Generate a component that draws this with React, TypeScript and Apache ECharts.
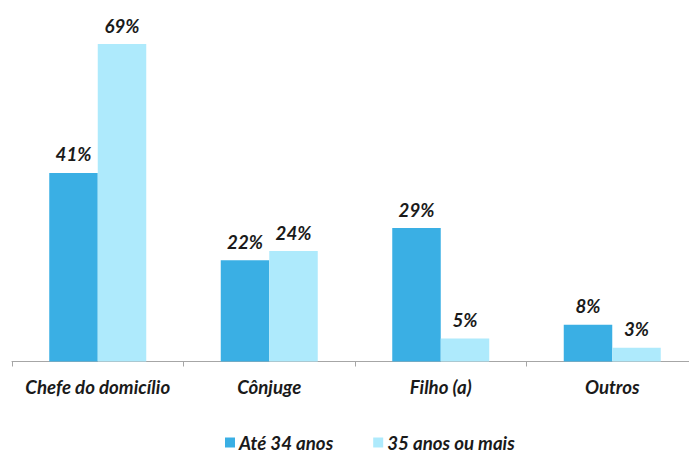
import React, { useEffect, useRef } from "react";
import * as echarts from "echarts";

const categories = ["Chefe do domicílio", "Cônjuge", "Filho (a)", "Outros"];
const seriesNames = ["Até 34 anos", "35 anos ou mais"];
const young = [41, 22, 29, 8];
const older = [69, 24, 5, 3];

const FONT = "Lato, 'Open Sans', sans-serif";
const TEXT = "#1a1a1a";
const FS = 18.67;

export default function App() {
  const ref = useRef<HTMLDivElement>(null);
  useEffect(() => {
    if (!ref.current) return;
    const chart = echarts.init(ref.current, null, { renderer: "svg" });
    const label = {
      show: true,
      position: "top" as const,
      distance: 9,
      formatter: (p: any) => `${p.value}%`,
      fontFamily: FONT,
      fontSize: FS,
      fontWeight: "bold" as const,
      fontStyle: "italic" as const,
      color: TEXT,
    };
    chart.setOption({
      animation: false,
      backgroundColor: "#ffffff",
      grid: { left: 12, top: 39.5, right: 2, height: 322 },
      legend: {
        left: 225,
        top: 433,
        padding: 0,
        icon: "rect",
        itemWidth: 10,
        itemHeight: 10,
        itemGap: 40,
        textStyle: {
          fontFamily: FONT,
          fontSize: FS,
          lineHeight: 18,
          fontWeight: "bold",
          fontStyle: "italic",
          color: TEXT,
          padding: [0, 0, 0, -1],
        },
        data: seriesNames,
      },
      xAxis: {
        type: "category",
        data: categories,
        axisLine: { lineStyle: { color: "#a6a6a6", width: 1 } },
        axisTick: { show: true, length: 5, lineStyle: { color: "#a6a6a6" } },
        axisLabel: {
          interval: 0,
          margin: 16,
          fontFamily: FONT,
          fontSize: FS,
          fontWeight: "bold",
          fontStyle: "italic",
          color: TEXT,
        },
      },
      yAxis: { type: "value", min: 0, max: 70, show: false, splitLine: { show: false } },
      series: [
        {
          name: seriesNames[0],
          type: "bar",
          data: young,
          barWidth: 48.5,
          barGap: "0%",
          itemStyle: { color: "#3aafe4" },
          label,
        },
        {
          name: seriesNames[1],
          type: "bar",
          data: older,
          barWidth: 48.5,
          barGap: "0%",
          itemStyle: { color: "#aeeafc" },
          label,
        },
      ],
    });
    return () => chart.dispose();
  }, []);
  return (
    <div
      ref={ref}
      style={{ position: "fixed", left: 0, top: 0, width: 700, height: 454 }}
    />
  );
}
